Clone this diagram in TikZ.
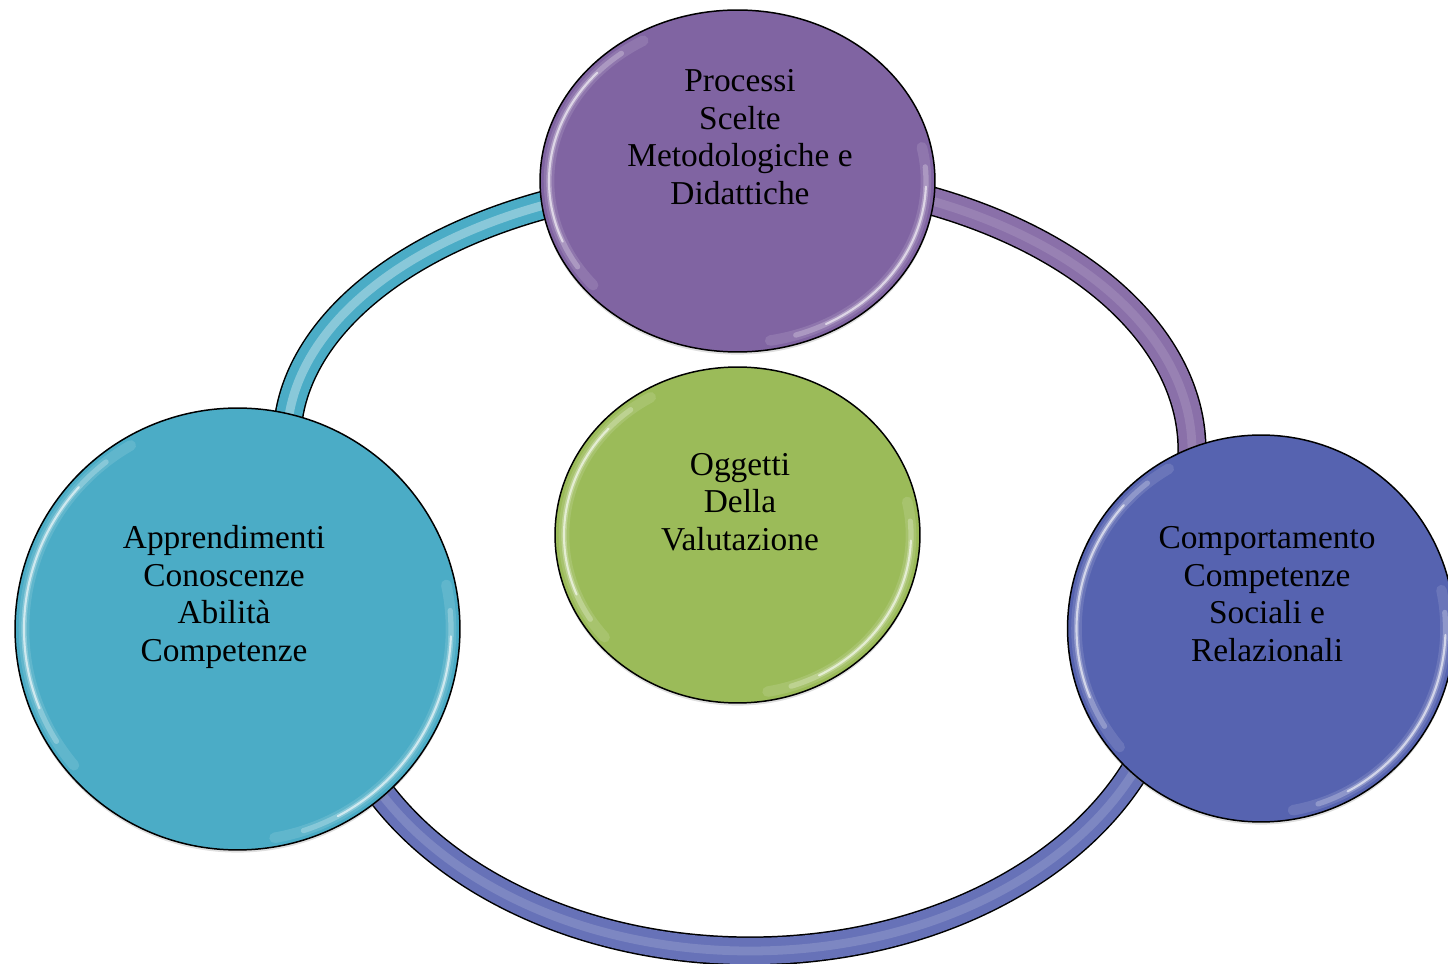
\documentclass[tikz,border=0pt]{standalone}
\usepackage{fontspec}
\setmainfont{Liberation Serif}
\usetikzlibrary{shapes.geometric,shadows}

\definecolor{procviola}{HTML}{8064A2}
\definecolor{apprciano}{HTML}{4BACC6}
\definecolor{compblu}{HTML}{5663B0}
\definecolor{oggverde}{HTML}{9BBB59}

\tikzset{
  bubble/.style={ellipse, draw=black, line width=0.85pt, inner sep=0pt,
    drop shadow={shadow xshift=0pt, shadow yshift=-1.5pt, opacity=0.25}},
  bubbletext/.style={align=center, text=black, font=\fontsize{19}{21.3}\selectfont},
  rim/.style={white, line cap=round, line width=#1},
  bandedge/.style={black, line width=16.6pt},
  bandfill/.style={line width=14.9pt},
  bandshine/.style={line width=5pt, white},
}

\begin{document}
\begin{tikzpicture}[x=0.02cm,y=0.02cm]
  \useasboundingbox (0,0) rectangle (1448,964);

  % ring: left -> top
  \draw[bandedge] (737,524) ++(200:450 and 260) arc[start angle=200, end angle=90, x radius=450, y radius=260];
  \draw[bandfill, apprciano] (737,524) ++(200:450 and 260) arc[start angle=200, end angle=90, x radius=450, y radius=260];
  \draw[bandshine, opacity=0.35] (737,524) ++(200:450 and 260) arc[start angle=200, end angle=90, x radius=450, y radius=260];

  % ring: top -> right
  \draw[bandedge] (740,514) ++(90:452 and 275) arc[start angle=90, end angle=-20, x radius=452, y radius=275];
  \draw[bandfill, procviola!92!white] (740,514) ++(90:452 and 275) arc[start angle=90, end angle=-20, x radius=452, y radius=275];
  \draw[bandshine, opacity=0.12] (740,514) ++(90:452 and 275) arc[start angle=90, end angle=-20, x radius=452, y radius=275];

  % ring: right -> left
  \draw[bandedge] (750,319.5) ++(0:422 and 306.5) arc[start angle=0, end angle=-180, x radius=422, y radius=306.5];
  \draw[bandfill, compblu!90!white] (750,319.5) ++(0:422 and 306.5) arc[start angle=0, end angle=-180, x radius=422, y radius=306.5];
  \draw[bandshine, opacity=0.15] (750,319.5) ++(0:422 and 306.5) arc[start angle=0, end angle=-180, x radius=422, y radius=306.5];

  % bubbles
  \node[bubble, fill=procviola, minimum width=7.9cm, minimum height=6.84cm] (processi) at (737.5,783) {};
  \node[bubble, fill=apprciano, minimum width=8.9cm, minimum height=8.84cm] (apprendimenti) at (237.5,335) {};
  \node[bubble, fill=compblu, minimum width=7.74cm, minimum height=7.74cm] (comportamento) at (1261,335.5) {};
  \node[bubble, fill=oggverde, minimum width=7.3cm, minimum height=6.72cm] (oggetti) at (737.5,429) {};

  % rim highlights
  \foreach \cx/\cy/\rx/\ry in {737.5/783/197.5/171, 237.5/335/222.5/221, 1261/335.5/193.5/193.5, 737.5/429/182.5/168} {
    \pgfmathsetmacro\ax{\rx-9}
    \pgfmathsetmacro\ay{\ry-9}
    \draw[rim=6pt, opacity=0.12] (\cx,\cy) ++({\ax*cos(120)},{\ay*sin(120)}) arc[start angle=120, end angle=220, x radius=\ax, y radius=\ay];
    \draw[rim=3pt, opacity=0.25] (\cx,\cy) ++({\ax*cos(128)},{\ay*sin(128)}) arc[start angle=128, end angle=212, x radius=\ax, y radius=\ay];
    \draw[rim=1.2pt, opacity=0.6] (\cx,\cy) ++({\ax*cos(138)},{\ay*sin(138)}) arc[start angle=138, end angle=202, x radius=\ax, y radius=\ay];
    \draw[rim=6pt, opacity=0.12] (\cx,\cy) ++({\ax*cos(-80)},{\ay*sin(-80)}) arc[start angle=-80, end angle=12, x radius=\ax, y radius=\ay];
    \draw[rim=3pt, opacity=0.25] (\cx,\cy) ++({\ax*cos(-72)},{\ay*sin(-72)}) arc[start angle=-72, end angle=5, x radius=\ax, y radius=\ay];
    \draw[rim=1.2pt, opacity=0.6] (\cx,\cy) ++({\ax*cos(-62)},{\ay*sin(-62)}) arc[start angle=-62, end angle=-2, x radius=\ax, y radius=\ay];
  }

  % texts
  \node[bubbletext] (processi-t) at ([xshift=0.05cm, yshift=0.88cm]processi.center) {Processi\\Scelte\\Metodologiche e\\Didattiche};
  \node[bubbletext] (apprendimenti-t) at ([xshift=-0.27cm, yshift=0.64cm]apprendimenti.center) {Apprendimenti\\Conoscenze\\Abilità\\Competenze};
  \node[bubbletext] (comportamento-t) at ([xshift=0.12cm, yshift=0.69cm]comportamento.center) {Comportamento\\Competenze\\Sociali e\\Relazionali};
  \node[bubbletext] (oggetti-t) at ([xshift=0.05cm, yshift=0.66cm]oggetti.center) {Oggetti\\Della\\Valutazione};
\end{tikzpicture}
\end{document}
